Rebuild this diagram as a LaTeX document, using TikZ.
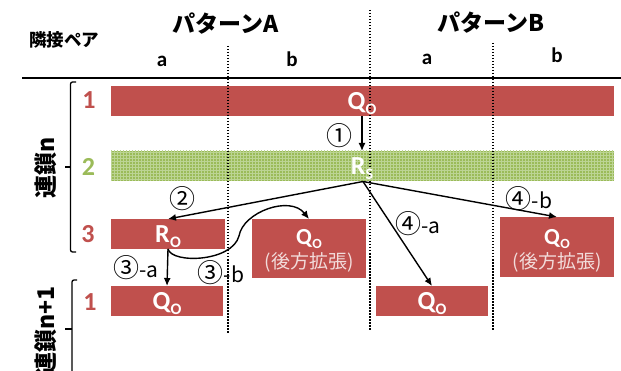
\documentclass[tikz,border=0pt]{standalone}
\usepackage{fontspec}
\setmainfont{Carlito}
\newfontfamily\jp{Noto Sans CJK JP}
\usetikzlibrary{arrows.meta,patterns}
\definecolor{barred}{HTML}{C0504D}
\definecolor{bargreen}{HTML}{9BBB59}
\definecolor{gridgreen}{HTML}{BCD494}
\definecolor{palepink}{HTML}{F2DCDB}
\newcommand\sublet[1]{\raisebox{-5pt}{\fontsize{16}{16}\selectfont #1}}
\newcommand\QO{{\bfseries Q\kern0.3pt\sublet{O}}}
\newcommand\RO{{\bfseries R\kern0.3pt\sublet{O}}}
\newcommand\RS{{\bfseries R\kern0.3pt\sublet{S}}}
\newcommand\QOs{{\fontsize{23}{23}\selectfont\bfseries Q\kern0.3pt\raisebox{-4pt}{\fontsize{14}{14}\selectfont O}}}
\newcommand\cnum[1]{{\fontsize{26}{26}\selectfont #1}}
\begin{document}
\begin{tikzpicture}[x=1pt,y=-1pt,
  redbox/.style={fill=barred, inner sep=0pt, outer sep=0pt},
  greenbox/.style={inner sep=0pt, outer sep=0pt, preaction={fill=bargreen}, pattern=grid, pattern color=gridgreen},
  qlab/.style={text=white, font=\fontsize{26}{26}\selectfont, inner sep=0pt},
  sublab/.style={text=palepink, font=\jp\fontsize{19}{19}\selectfont, inner sep=0pt},
  rownum/.style={font=\bfseries\fontsize{26}{26}\selectfont, inner sep=0pt},
  head/.style={font=\jp\bfseries\fontsize{23}{23}\selectfont, inner sep=0pt},
  colab/.style={font=\bfseries\fontsize{21}{21}\selectfont, inner sep=0pt, anchor=base},
  steplab/.style={font=\jp\fontsize{21}{21}\selectfont, inner sep=0pt},
  chain/.style={font=\jp\bfseries\fontsize{23}{23}\selectfont, inner sep=0pt, rotate=90},
  arr/.style={line width=1.4pt, -{Latex[length=8pt,width=7pt]}},
  sep/.style={line width=1.5pt, dash pattern=on 1.5pt off 1.5pt},
  bracket/.style={line width=1.3pt, rounded corners=2pt}]
\useasboundingbox (0,0) rectangle (621,371);
% headers
\node[head] (pA) at (226,24) {パターンA};
\node[head] (pB) at (491,23) {パターンB};
\node[font=\jp\bfseries\fontsize{17.5}{17.5}\selectfont, inner sep=0pt] (pair) at (64,40) {隣接ペア};
\node[colab] (Aa) at (162,67) {a};
\node[colab] (Ab) at (292,67) {b};
\node[colab] (Ba) at (427,65) {a};
\node[colab] (Bb) at (557,63) {b};
\draw[line width=1.6pt] (22,78) -- (621,78);
% bars
\node[redbox, minimum width=503pt, minimum height=30pt] (q1) at (362.5,101) {};
\node[greenbox, minimum width=503pt, minimum height=30pt] (g) at (362.5,166) {};
\node[redbox, minimum width=114pt, minimum height=30pt] (robox) at (168,234) {};
\node[redbox, minimum width=114pt, minimum height=59pt] (qbA) at (309,248.5) {};
\node[redbox, minimum width=114pt, minimum height=60pt] (qbB) at (557,247) {};
\node[redbox, minimum width=112pt, minimum height=30pt] (qa) at (167,301) {};
\node[redbox, minimum width=112pt, minimum height=30pt] (qB) at (432,301) {};
% separators
\draw[sep] (228,46) -- (228,333);
\draw[sep] (370,10) -- (370,331);
\draw[sep] (493,43) -- (493,330);
% box labels
\node[qlab] (q1t) at (362,104) {\QO};
\node[qlab] (rs) at (362,169) {\RS};
\node[qlab] (ro) at (168,237) {\RO};
\node[qlab] (qbAt) at (309,239) {\QOs};
\node[sublab] (qbAs) at (309,262) {(後方拡張)};
\node[qlab] (qbBt) at (557,239) {\QOs};
\node[sublab] (qbBs) at (557,262) {(後方拡張)};
\node[qlab] (qat) at (167,304) {\QO};
\node[qlab] (qBt) at (432,304) {\QO};
% row numbers
\node[rownum, text=barred] (n1) at (89,100.5) {1};
\node[rownum, text=bargreen] (n2) at (88.5,167) {2};
\node[rownum, text=barred] (n3) at (88,234) {3};
\node[rownum, text=barred] (n4) at (90,302) {1};
% chain labels and brackets
\node[chain] (cn) at (46,168) {連鎖n};
\node[chain, anchor=east] (cn1) at (46,286) {連鎖n+1};
\draw[bracket] (76,82) -- (70.5,82) -- (70.5,252) -- (76,252);
\draw[line width=1.3pt] (70.5,167) -- (65,167);
\draw[bracket] (77,280) -- (72,280) -- (72,380);
\draw[line width=1.3pt] (72,329) -- (65,329);
% arrows
\coordinate (rsb) at (363,181.5);
\draw[arr] (q1t |- q1.south) -- (q1t |- g.north);
\draw[arr] (rsb) -- (robox.north);
\draw[arr] (rsb) -- (qB.north);
\draw[arr] (rsb) -- (qbB.north);
\draw[arr] (robox.south) -- (qa.north);
\draw[arr] (robox.south) .. controls (172,264) and (232,262) .. (239,236)
  .. controls (243,212) and (290,195) .. (qbA.north);
% step labels
\node[steplab] (s1) at (339,136) {\cnum{①}};
\node[steplab] (s2) at (182,199) {\cnum{②}};
\node[steplab] (s4b) at (529,199) {\cnum{④}-b};
\node[steplab] (s4a) at (418,224) {\cnum{④}-a};
\node[steplab] (s3a) at (136,268) {\cnum{③}-a};
\node[steplab] (s3b) at (221,273) {\cnum{③}-b};
\end{tikzpicture}
\end{document}
